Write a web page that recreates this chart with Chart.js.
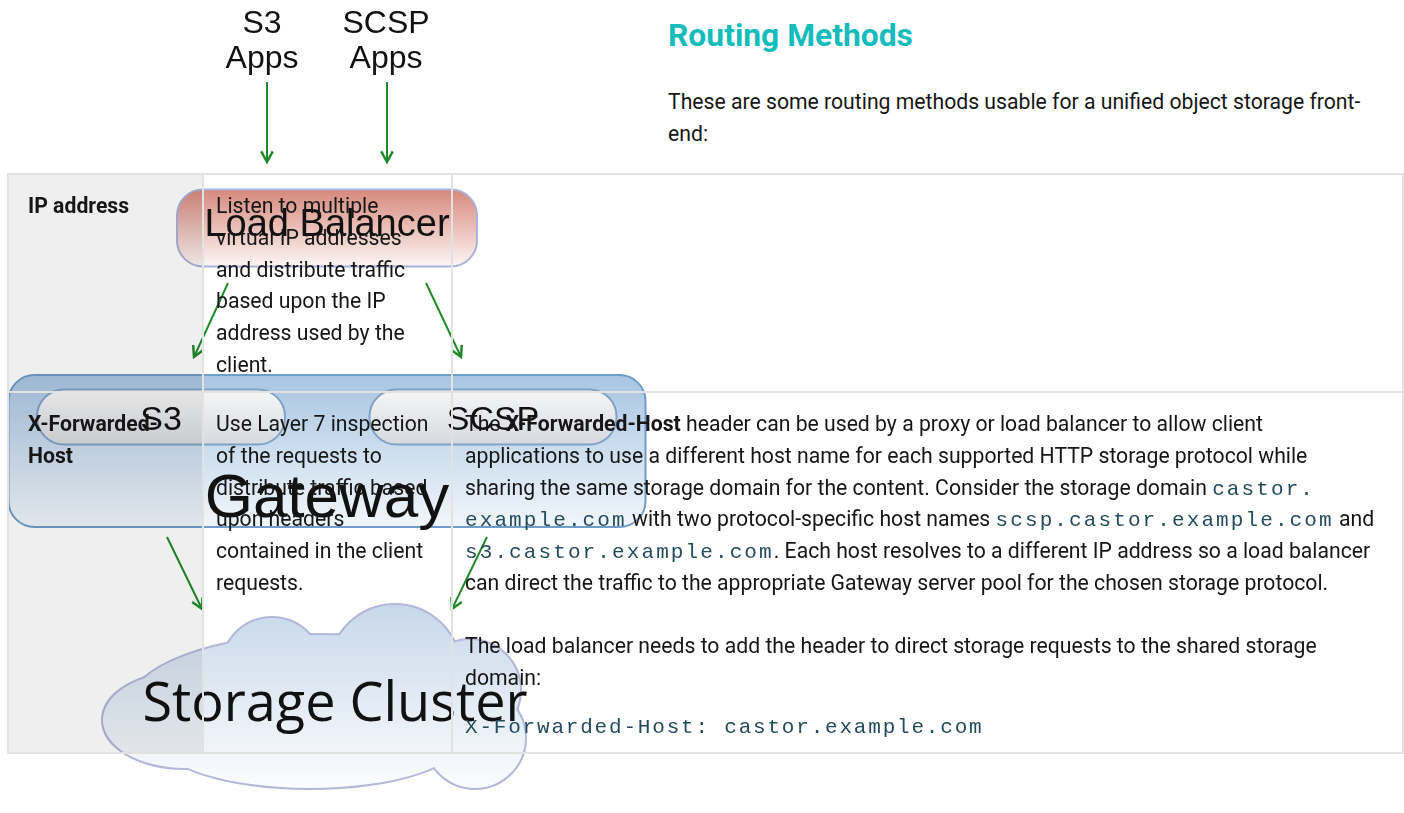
<!DOCTYPE html>
<html>
<head>
<meta charset="utf-8">
<title>Routing Methods</title>
<script src="https://cdn.jsdelivr.net/npm/chart.js@4.4.1/dist/chart.umd.min.js"></script>
<style>
  body { margin: 0; width: 1404px; height: 813px; overflow: hidden; background: #fff; position: relative; font-family: Roboto, sans-serif; color: #161616; }
  #diagram { position: absolute; left: 0; top: 0; z-index: 1; }
  .title { position: absolute; left: 668px; top: 15px; margin: 0; font: bold 31.8px/40px Roboto, sans-serif; color: #15bcbc; }
  .intro { position: absolute; left: 668px; top: 86px; margin: 0; font-size: 21.2px; line-height: 32px; white-space: nowrap; }
  table { position: absolute; left: 7px; top: 173px; width: 1395px; border-collapse: collapse; table-layout: fixed; font-size: 21.2px; line-height: 31.8px; z-index: 2; }
  td { border: 2px solid #e2e2e2; vertical-align: top; padding: 15px 12px 0 12px; white-space: nowrap; }
  td.name { background: rgba(0, 0, 0, 0.063); font-weight: bold; padding-left: 19px; }
  td p { margin: 0 0 31px 0; }
  td p.last { margin-bottom: 19px; }
  .code { font-family: "Liberation Mono", monospace; font-size: 21px; letter-spacing: 2.1px; color: #244c5c; line-height: 20px; }
  div.code { line-height: 31.8px; letter-spacing: 1.8px; }
</style>
</head>
<body>
<canvas id="diagram" width="700" height="800"></canvas>

<h1 class="title">Routing Methods</h1>
<p class="intro">These are some routing methods usable for a unified object storage front-<br>end:</p>

<table>
  <colgroup><col style="width:195px"><col style="width:249px"><col style="width:951px"></colgroup>
  <tr style="height:218px">
    <td class="name">IP address</td>
    <td>Listen to multiple<br>virtual IP addresses<br>and distribute traffic<br>based upon the IP<br>address used by the<br>client.</td>
    <td></td>
  </tr>
  <tr style="height:361px">
    <td class="name">X-Forwarded-<br>Host</td>
    <td>Use Layer 7 inspection<br>of the requests to<br>distribute traffic based<br>upon headers<br>contained in the client<br>requests.</td>
    <td>
      <p>The <b>X-Forwarded-Host</b> header can be used by a proxy or load balancer to allow client<br>applications to use a different host name for each supported HTTP storage protocol while<br>sharing the same storage domain for the content. Consider the storage domain <span class="code">castor.</span><br><span class="code">example.com</span> with two protocol-specific host names <span class="code">scsp.castor.example.com</span> and<br><span class="code">s3.castor.example.com</span>. Each host resolves to a different IP address so a load balancer<br>can direct the traffic to the appropriate Gateway server pool for the chosen storage protocol.</p>
      <p class="last">The load balancer needs to add the header to direct storage requests to the shared storage<br>domain:</p>
      <div class="code">X-Forwarded-Host: castor.example.com</div>
    </td>
  </tr>
</table>

<script>
// diagram nodes (centres in diagram units)
const nodeNames = ['S3\nApps', 'SCSP\nApps', 'Load Balancer', 'Gateway', 'S3', 'SCSP', 'Storage Cluster'];
const nodeX = [262, 386, 327, 327, 161, 493, 320];
const nodeY = [40, 40, 228, 451, 417, 417, 700];

// arrows: start and end
const arrowStartX = [267, 387, 228, 426, 167, 487];
const arrowStartY = [82, 82, 283, 283, 537, 537];
const arrowEndX = [267, 387, 194, 461, 202, 452];
const arrowEndY = [162, 162, 357, 357, 609, 609];

// how each node is drawn
var sans = '"Liberation Sans", Arial, sans-serif';
var nodeStyle = {
    'S3\nApps':   { shape: 'none', font: '32px ' + sans, lines: [-7, 28] },
    'SCSP\nApps': { shape: 'none', font: '32px ' + sans, lines: [-7, 28] },
    'Load Balancer': { shape: 'box', w: 300, h: 77, r: 26, top: '#d6897c', bottom: '#fdf6f4', stroke: '#aab1da', font: '38px ' + sans, dy: 8 },
    'Gateway': { shape: 'box', w: 637, h: 152, r: 26, top: '#a8c5e2', bottom: '#f1f6fb', stroke: '#6f9cc8', font: '62px ' + sans, dy: 66 },
    'S3':   { shape: 'box', w: 248, h: 55, r: 27, top: '#f6f6f6', bottom: '#d6d9de', stroke: '#7fa2c6', font: '34px ' + sans, dy: 13 },
    'SCSP': { shape: 'box', w: 247, h: 55, r: 27, top: '#f6f6f6', bottom: '#d6d9de', stroke: '#7fa2c6', font: '34px ' + sans, dy: 13 },
    'Storage Cluster': { shape: 'cloud', top: '#c8d8ea', bottom: '#fbfcfe', stroke: '#b3b7da', font: '54px "Open Sans", sans-serif', dx: 15, dy: 21,
        lobes: [[-135, 20, 82, 48], [-48, -32, 50, 50], [75, -30, 65, 65], [150, -10, 50, 50], [155, 38, 50, 50], [-10, 40, 150, 48], [0, 5, 190, 70]] }
};

var diagramPlugin = {
    id: 'diagram',

    beforeDatasetsDraw: function (chart) {
        var ctx = chart.ctx, sx = chart.scales.x, sy = chart.scales.y;
        nodeNames.forEach(function (name, i) {
            var st = nodeStyle[name];
            var cx = sx.getPixelForValue(nodeX[i]), cy = sy.getPixelForValue(nodeY[i]);
            ctx.save();
            if (st.shape === 'box') {
                var w = sx.getPixelForValue(nodeX[i] + st.w / 2) - cx;
                var h = sy.getPixelForValue(nodeY[i] + st.h / 2) - cy;
                var g = ctx.createLinearGradient(0, cy - h, 0, cy + h);
                g.addColorStop(0, st.top);
                g.addColorStop(1, st.bottom);
                ctx.beginPath();
                ctx.roundRect(cx - w, cy - h, w * 2, h * 2, st.r);
                ctx.fillStyle = g;
                ctx.fill();
                ctx.lineWidth = 2;
                ctx.strokeStyle = st.stroke;
                ctx.stroke();
            } else if (st.shape === 'cloud') {
                var lobes = st.lobes.map(function (l) {
                    var x = sx.getPixelForValue(nodeX[i] + l[0]), y = sy.getPixelForValue(nodeY[i] + l[1]);
                    return [x, y, sx.getPixelForValue(nodeX[i] + l[0] + l[2]) - x, sy.getPixelForValue(nodeY[i] + l[1] + l[3]) - y];
                });
                ctx.lineWidth = 4;
                ctx.strokeStyle = st.stroke;
                lobes.forEach(function (l) {
                    ctx.beginPath();
                    ctx.ellipse(l[0], l[1], l[2], l[3], 0, 0, Math.PI * 2);
                    ctx.stroke();
                });
                var minY = Math.min.apply(null, lobes.map(function (l) { return l[1] - l[3]; }));
                var maxY = Math.max.apply(null, lobes.map(function (l) { return l[1] + l[3]; }));
                var cg = ctx.createLinearGradient(0, minY, 0, maxY);
                cg.addColorStop(0, st.top);
                cg.addColorStop(1, st.bottom);
                ctx.beginPath();
                lobes.forEach(function (l) {
                    ctx.moveTo(l[0] + l[2], l[1]);
                    ctx.ellipse(l[0], l[1], l[2], l[3], 0, 0, Math.PI * 2);
                });
                ctx.fillStyle = cg;
                ctx.fill();
            }
            ctx.restore();
        });
    },

    afterDatasetsDraw: function (chart) {
        var ctx = chart.ctx, sx = chart.scales.x, sy = chart.scales.y;
        // arrow heads from the line datasets
        chart.data.datasets.forEach(function (ds, i) {
            var pts = chart.getDatasetMeta(i).data;
            var a = pts[0], b = pts[1];
            var ang = Math.atan2(b.y - a.y, b.x - a.x);
            ctx.save();
            ctx.strokeStyle = ds.borderColor;
            ctx.lineWidth = 2.5;
            ctx.beginPath();
            ctx.moveTo(b.x - 12 * Math.cos(ang - 0.5), b.y - 12 * Math.sin(ang - 0.5));
            ctx.lineTo(b.x, b.y);
            ctx.lineTo(b.x - 12 * Math.cos(ang + 0.5), b.y - 12 * Math.sin(ang + 0.5));
            ctx.stroke();
            ctx.restore();
        });
        // labels
        nodeNames.forEach(function (name, i) {
            var st = nodeStyle[name];
            var cx = sx.getPixelForValue(nodeX[i] + (st.dx || 0));
            ctx.save();
            ctx.font = st.font;
            ctx.fillStyle = '#111';
            ctx.textAlign = 'center';
            ctx.textBaseline = 'alphabetic';
            if (st.lines) {
                name.split('\n').forEach(function (line, k) {
                    ctx.fillText(line, cx, sy.getPixelForValue(nodeY[i] + st.lines[k]));
                });
            } else {
                ctx.fillText(name, cx, sy.getPixelForValue(nodeY[i] + st.dy));
            }
            ctx.restore();
        });
    }
};

new Chart(document.getElementById('diagram'), {
    type: 'scatter',
    data: {
        datasets: arrowStartX.map(function (x0, i) {
            return {
                data: [{ x: x0, y: arrowStartY[i] }, { x: arrowEndX[i], y: arrowEndY[i] }],
                showLine: true,
                borderColor: '#22892a',
                borderWidth: 2,
                pointRadius: 0
            };
        })
    },
    options: {
        responsive: false,
        animation: false,
        events: [],
        layout: { padding: 0 },
        plugins: { legend: { display: false }, tooltip: { enabled: false } },
        scales: {
            x: { type: 'linear', min: 0, max: 700, display: false },
            y: { type: 'linear', min: 0, max: 800, reverse: true, display: false }
        }
    },
    plugins: [diagramPlugin]
});
</script>
</body>
</html>
